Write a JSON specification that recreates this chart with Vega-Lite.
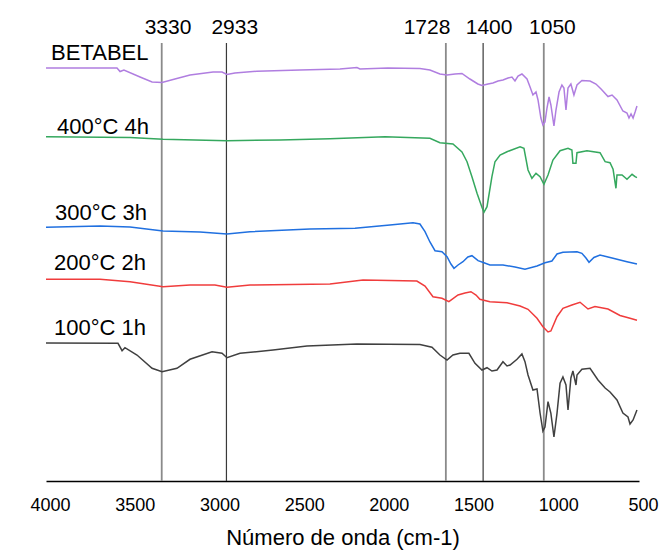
{
"$schema": "https://vega.github.io/schema/vega-lite/v6.json",
"width": 593,
"height": 466,
"autosize": {"type": "none"},
"padding": {"left": 46, "top": 15, "right": 20, "bottom": 69},
"background": "white",
"config": {"view": {"stroke": null}, "font": "Liberation Sans"},
"datasets": {
"refs": [
{"wn": 3317, "label": "3330"},
{"wn": 2935, "label": "2933"},
{"wn": 1640, "label": "1728"},
{"wn": 1420, "label": "1400"},
{"wn": 1062, "label": "1050"}
],
"toplabels": [
{"wn": 3280, "label": "3330"},
{"wn": 2886, "label": "2933"},
{"wn": 1751, "label": "1728"},
{"wn": 1385, "label": "1400"},
{"wn": 1011, "label": "1050"}
],
"serieslabels": [
{"wn": 3970, "t": 428.5, "name": "BETABEL"},
{"wn": 3935, "t": 354, "name": "400°C 4h"},
{"wn": 3947, "t": 268, "name": "300°C 3h"},
{"wn": 3953, "t": 218, "name": "200°C 2h"},
{"wn": 3953, "t": 153, "name": "100°C 1h"}
],
"spectra": [
{"s":"BETABEL","wn":4000,"t":413},{"s":"BETABEL","wn":3581,"t":413},{"s":"BETABEL","wn":3563,"t":409.5},{"s":"BETABEL","wn":3540,"t":411},{"s":"BETABEL","wn":3445,"t":404},{"s":"BETABEL","wn":3374,"t":399},{"s":"BETABEL","wn":3315,"t":398.5},{"s":"BETABEL","wn":3239,"t":402},{"s":"BETABEL","wn":3150,"t":406},{"s":"BETABEL","wn":3014,"t":409},{"s":"BETABEL","wn":2961,"t":409},{"s":"BETABEL","wn":2932,"t":406.5},{"s":"BETABEL","wn":2885,"t":408},{"s":"BETABEL","wn":2755,"t":409.7},{"s":"BETABEL","wn":2501,"t":411},{"s":"BETABEL","wn":2265,"t":412},{"s":"BETABEL","wn":2165,"t":413.5},{"s":"BETABEL","wn":2147,"t":412},{"s":"BETABEL","wn":1982,"t":413},{"s":"BETABEL","wn":1793,"t":412.5},{"s":"BETABEL","wn":1734,"t":411},{"s":"BETABEL","wn":1675,"t":407},{"s":"BETABEL","wn":1633,"t":406},{"s":"BETABEL","wn":1586,"t":407},{"s":"BETABEL","wn":1545,"t":407.5},{"s":"BETABEL","wn":1498,"t":402},{"s":"BETABEL","wn":1451,"t":397},{"s":"BETABEL","wn":1427,"t":395.5},{"s":"BETABEL","wn":1391,"t":397},{"s":"BETABEL","wn":1362,"t":398},{"s":"BETABEL","wn":1332,"t":400},{"s":"BETABEL","wn":1303,"t":401},{"s":"BETABEL","wn":1273,"t":403},{"s":"BETABEL","wn":1250,"t":404},{"s":"BETABEL","wn":1232,"t":400},{"s":"BETABEL","wn":1214,"t":405},{"s":"BETABEL","wn":1191,"t":407},{"s":"BETABEL","wn":1161,"t":402},{"s":"BETABEL","wn":1143,"t":394},{"s":"BETABEL","wn":1126,"t":386},{"s":"BETABEL","wn":1108,"t":389},{"s":"BETABEL","wn":1096,"t":381},{"s":"BETABEL","wn":1079,"t":363},{"s":"BETABEL","wn":1067,"t":356},{"s":"BETABEL","wn":1055,"t":359},{"s":"BETABEL","wn":1043,"t":373},{"s":"BETABEL","wn":1031,"t":384},{"s":"BETABEL","wn":1020,"t":376},{"s":"BETABEL","wn":1002,"t":355},{"s":"BETABEL","wn":990,"t":371},{"s":"BETABEL","wn":972,"t":389},{"s":"BETABEL","wn":955,"t":396},{"s":"BETABEL","wn":943,"t":393},{"s":"BETABEL","wn":931,"t":371},{"s":"BETABEL","wn":919,"t":393},{"s":"BETABEL","wn":902,"t":397},{"s":"BETABEL","wn":884,"t":386},{"s":"BETABEL","wn":866,"t":396},{"s":"BETABEL","wn":837,"t":400.5},{"s":"BETABEL","wn":789,"t":400},{"s":"BETABEL","wn":754,"t":397},{"s":"BETABEL","wn":724,"t":392},{"s":"BETABEL","wn":683,"t":384.5},{"s":"BETABEL","wn":659,"t":386},{"s":"BETABEL","wn":630,"t":381},{"s":"BETABEL","wn":595,"t":370},{"s":"BETABEL","wn":571,"t":368},{"s":"BETABEL","wn":559,"t":363},{"s":"BETABEL","wn":547,"t":367},{"s":"BETABEL","wn":535,"t":363},{"s":"BETABEL","wn":523,"t":369},{"s":"BETABEL","wn":512,"t":375},
{"s":"400°C 4h","wn":4000,"t":344.3},{"s":"400°C 4h","wn":3504,"t":343.5},{"s":"400°C 4h","wn":3309,"t":341.7},{"s":"400°C 4h","wn":2932,"t":340.3},{"s":"400°C 4h","wn":2619,"t":341},{"s":"400°C 4h","wn":2324,"t":342.3},{"s":"400°C 4h","wn":1999,"t":344.3},{"s":"400°C 4h","wn":1734,"t":342.7},{"s":"400°C 4h","wn":1675,"t":338.3},{"s":"400°C 4h","wn":1598,"t":337},{"s":"400°C 4h","wn":1545,"t":329},{"s":"400°C 4h","wn":1515,"t":319.3},{"s":"400°C 4h","wn":1486,"t":304.3},{"s":"400°C 4h","wn":1456,"t":287.7},{"s":"400°C 4h","wn":1427,"t":273.7},{"s":"400°C 4h","wn":1415,"t":268.7},{"s":"400°C 4h","wn":1397,"t":274.3},{"s":"400°C 4h","wn":1368,"t":304.3},{"s":"400°C 4h","wn":1350,"t":319.3},{"s":"400°C 4h","wn":1320,"t":326},{"s":"400°C 4h","wn":1279,"t":329.3},{"s":"400°C 4h","wn":1202,"t":334.3},{"s":"400°C 4h","wn":1179,"t":332.7},{"s":"400°C 4h","wn":1155,"t":311},{"s":"400°C 4h","wn":1132,"t":302.7},{"s":"400°C 4h","wn":1108,"t":307.7},{"s":"400°C 4h","wn":1084,"t":304.3},{"s":"400°C 4h","wn":1061,"t":296.7},{"s":"400°C 4h","wn":1037,"t":306},{"s":"400°C 4h","wn":1008,"t":321},{"s":"400°C 4h","wn":966,"t":330.3},{"s":"400°C 4h","wn":919,"t":332.7},{"s":"400°C 4h","wn":896,"t":331},{"s":"400°C 4h","wn":890,"t":317.7},{"s":"400°C 4h","wn":872,"t":317.7},{"s":"400°C 4h","wn":866,"t":328.3},{"s":"400°C 4h","wn":807,"t":330.3},{"s":"400°C 4h","wn":730,"t":328.3},{"s":"400°C 4h","wn":700,"t":319.3},{"s":"400°C 4h","wn":671,"t":318.3},{"s":"400°C 4h","wn":653,"t":311.7},{"s":"400°C 4h","wn":636,"t":292.7},{"s":"400°C 4h","wn":630,"t":306},{"s":"400°C 4h","wn":600,"t":306},{"s":"400°C 4h","wn":571,"t":301.7},{"s":"400°C 4h","wn":541,"t":306.7},{"s":"400°C 4h","wn":523,"t":304.3},{"s":"400°C 4h","wn":512,"t":303.3},
{"s":"300°C 3h","wn":4000,"t":253.7},{"s":"300°C 3h","wn":3681,"t":255},{"s":"300°C 3h","wn":3504,"t":254},{"s":"300°C 3h","wn":3309,"t":250},{"s":"300°C 3h","wn":3091,"t":249},{"s":"300°C 3h","wn":2932,"t":247},{"s":"300°C 3h","wn":2796,"t":249.3},{"s":"300°C 3h","wn":2442,"t":252},{"s":"300°C 3h","wn":2176,"t":252.7},{"s":"300°C 3h","wn":1970,"t":256},{"s":"300°C 3h","wn":1834,"t":258.3},{"s":"300°C 3h","wn":1793,"t":257},{"s":"300°C 3h","wn":1763,"t":249.3},{"s":"300°C 3h","wn":1734,"t":239},{"s":"300°C 3h","wn":1704,"t":230.3},{"s":"300°C 3h","wn":1663,"t":229.3},{"s":"300°C 3h","wn":1633,"t":224.3},{"s":"300°C 3h","wn":1610,"t":217},{"s":"300°C 3h","wn":1592,"t":212.7},{"s":"300°C 3h","wn":1568,"t":216},{"s":"300°C 3h","wn":1539,"t":219.3},{"s":"300°C 3h","wn":1510,"t":224},{"s":"300°C 3h","wn":1486,"t":225.3},{"s":"300°C 3h","wn":1450,"t":220.3},{"s":"300°C 3h","wn":1415,"t":218.3},{"s":"300°C 3h","wn":1380,"t":216},{"s":"300°C 3h","wn":1303,"t":216},{"s":"300°C 3h","wn":1232,"t":214},{"s":"300°C 3h","wn":1173,"t":211.7},{"s":"300°C 3h","wn":1102,"t":215},{"s":"300°C 3h","wn":1055,"t":218.3},{"s":"300°C 3h","wn":1014,"t":220},{"s":"300°C 3h","wn":984,"t":227},{"s":"300°C 3h","wn":949,"t":228.7},{"s":"300°C 3h","wn":866,"t":229.3},{"s":"300°C 3h","wn":837,"t":227.7},{"s":"300°C 3h","wn":813,"t":223},{"s":"300°C 3h","wn":795,"t":218.7},{"s":"300°C 3h","wn":766,"t":223.5},{"s":"300°C 3h","wn":730,"t":226},{"s":"300°C 3h","wn":653,"t":222.7},{"s":"300°C 3h","wn":571,"t":219.3},{"s":"300°C 3h","wn":512,"t":217},
{"s":"200°C 2h","wn":4000,"t":201.7},{"s":"200°C 2h","wn":3681,"t":201.7},{"s":"200°C 2h","wn":3504,"t":199.3},{"s":"200°C 2h","wn":3309,"t":194.3},{"s":"200°C 2h","wn":3150,"t":196},{"s":"200°C 2h","wn":3003,"t":196},{"s":"200°C 2h","wn":2932,"t":193.7},{"s":"200°C 2h","wn":2796,"t":196},{"s":"200°C 2h","wn":2324,"t":197},{"s":"200°C 2h","wn":2129,"t":201},{"s":"200°C 2h","wn":1811,"t":200},{"s":"200°C 2h","wn":1763,"t":195},{"s":"200°C 2h","wn":1716,"t":184.3},{"s":"200°C 2h","wn":1663,"t":182.7},{"s":"200°C 2h","wn":1622,"t":179.3},{"s":"200°C 2h","wn":1568,"t":186},{"s":"200°C 2h","wn":1527,"t":188},{"s":"200°C 2h","wn":1492,"t":189.3},{"s":"200°C 2h","wn":1462,"t":186},{"s":"200°C 2h","wn":1439,"t":181.7},{"s":"200°C 2h","wn":1380,"t":179.3},{"s":"200°C 2h","wn":1279,"t":178.3},{"s":"200°C 2h","wn":1202,"t":175},{"s":"200°C 2h","wn":1155,"t":171.7},{"s":"200°C 2h","wn":1102,"t":162.7},{"s":"200°C 2h","wn":1067,"t":154.3},{"s":"200°C 2h","wn":1037,"t":149},{"s":"200°C 2h","wn":1020,"t":150},{"s":"200°C 2h","wn":984,"t":164.3},{"s":"200°C 2h","wn":949,"t":172.7},{"s":"200°C 2h","wn":896,"t":176},{"s":"200°C 2h","wn":848,"t":178.7},{"s":"200°C 2h","wn":801,"t":172},{"s":"200°C 2h","wn":760,"t":174.5},{"s":"200°C 2h","wn":683,"t":172},{"s":"200°C 2h","wn":612,"t":165.5},{"s":"200°C 2h","wn":553,"t":162.7},{"s":"200°C 2h","wn":512,"t":160.7},
{"s":"100°C 1h","wn":4000,"t":138},{"s":"100°C 1h","wn":3575,"t":137.7},{"s":"100°C 1h","wn":3551,"t":130.3},{"s":"100°C 1h","wn":3534,"t":133.3},{"s":"100°C 1h","wn":3463,"t":126},{"s":"100°C 1h","wn":3374,"t":112.7},{"s":"100°C 1h","wn":3315,"t":109.3},{"s":"100°C 1h","wn":3227,"t":112.7},{"s":"100°C 1h","wn":3150,"t":121.7},{"s":"100°C 1h","wn":3020,"t":129.3},{"s":"100°C 1h","wn":2961,"t":127.7},{"s":"100°C 1h","wn":2932,"t":123.3},{"s":"100°C 1h","wn":2855,"t":127.7},{"s":"100°C 1h","wn":2660,"t":131},{"s":"100°C 1h","wn":2460,"t":135},{"s":"100°C 1h","wn":2165,"t":137},{"s":"100°C 1h","wn":1793,"t":136.5},{"s":"100°C 1h","wn":1722,"t":133.7},{"s":"100°C 1h","wn":1675,"t":126},{"s":"100°C 1h","wn":1633,"t":121},{"s":"100°C 1h","wn":1598,"t":126},{"s":"100°C 1h","wn":1557,"t":127.7},{"s":"100°C 1h","wn":1504,"t":127.7},{"s":"100°C 1h","wn":1468,"t":117.7},{"s":"100°C 1h","wn":1427,"t":111},{"s":"100°C 1h","wn":1397,"t":113.3},{"s":"100°C 1h","wn":1368,"t":110},{"s":"100°C 1h","wn":1338,"t":111},{"s":"100°C 1h","wn":1303,"t":119.3},{"s":"100°C 1h","wn":1279,"t":115},{"s":"100°C 1h","wn":1261,"t":116},{"s":"100°C 1h","wn":1220,"t":121.7},{"s":"100°C 1h","wn":1191,"t":127},{"s":"100°C 1h","wn":1173,"t":119.3},{"s":"100°C 1h","wn":1155,"t":106},{"s":"100°C 1h","wn":1126,"t":91},{"s":"100°C 1h","wn":1102,"t":92},{"s":"100°C 1h","wn":1084,"t":68},{"s":"100°C 1h","wn":1067,"t":50},{"s":"100°C 1h","wn":1055,"t":54},{"s":"100°C 1h","wn":1037,"t":79.3},{"s":"100°C 1h","wn":1020,"t":67.7},{"s":"100°C 1h","wn":1002,"t":44},{"s":"100°C 1h","wn":984,"t":67.7},{"s":"100°C 1h","wn":966,"t":97.7},{"s":"100°C 1h","wn":949,"t":104},{"s":"100°C 1h","wn":931,"t":96},{"s":"100°C 1h","wn":919,"t":71},{"s":"100°C 1h","wn":902,"t":103},{"s":"100°C 1h","wn":890,"t":110},{"s":"100°C 1h","wn":872,"t":96},{"s":"100°C 1h","wn":866,"t":106},{"s":"100°C 1h","wn":837,"t":111.7},{"s":"100°C 1h","wn":789,"t":112.7},{"s":"100°C 1h","wn":742,"t":101},{"s":"100°C 1h","wn":700,"t":93},{"s":"100°C 1h","wn":671,"t":89},{"s":"100°C 1h","wn":630,"t":81},{"s":"100°C 1h","wn":595,"t":68},{"s":"100°C 1h","wn":565,"t":64},{"s":"100°C 1h","wn":553,"t":57},{"s":"100°C 1h","wn":535,"t":61},{"s":"100°C 1h","wn":512,"t":71}
]
},
"encoding": {
"x": {
"field": "wn", "type": "quantitative",
"scale": {"domain": [500, 4000], "reverse": true, "nice": false, "zero": false},
"axis": {
"title": "Número de onda (cm-1)",
"values": [4000, 3500, 3000, 2500, 2000, 1500, 1000, 500],
"format": "d", "ticks": false, "grid": false,
"domainColor": "black", "domainWidth": 1.5,
"labelFont": "Liberation Sans", "labelFontSize": 18, "labelColor": "black",
"labelPadding": 15, "labelOffset": 4, "labelFlush": false, "labelOverlap": false,
"titleFont": "Liberation Sans", "titleFontSize": 22, "titleFontWeight": "normal", "titleColor": "black",
"titleY": 63, "titleBaseline": "alphabetic"
}
}
},
"layer": [
{
"data": {"name": "refs"},
"transform": [{"filter": {"field": "label", "oneOf": ["3330", "1728", "1050"]}}],
"mark": {"type": "rule", "color": "#8a8a8a", "strokeWidth": 1.8},
"encoding": {
"y": {"datum": 438, "type": "quantitative", "scale": {"domain": [0, 466], "nice": false, "zero": true}, "axis": null},
"y2": {"datum": 0}
}
},
{
"data": {"name": "refs"},
"transform": [{"filter": {"field": "label", "oneOf": ["2933", "1400"]}}],
"mark": {"type": "rule", "color": "#3a3a3a", "strokeWidth": 1.2},
"encoding": {
"y": {"datum": 438, "type": "quantitative", "scale": {"domain": [0, 466], "nice": false, "zero": true}, "axis": null},
"y2": {"datum": 0}
}
},
{
"data": {"name": "spectra"},
"mark": {"type": "line", "strokeWidth": 1.5, "interpolate": "linear"},
"encoding": {
"y": {
"field": "t", "type": "quantitative",
"scale": {"domain": [0, 466], "nice": false, "zero": true},
"axis": {
"title": "% Transmitancia", "labels": false, "ticks": false, "grid": false,
"domainColor": "black", "domainWidth": 1.5,
"titleFont": "Liberation Sans", "titleFontSize": 22, "titleFontWeight": "normal", "titleColor": "black",
"titleX": -24, "titleY": 213, "titleBaseline": "middle", "titleAngle": -90, "titleAlign": "center"
}
},
"color": {
"field": "s", "type": "nominal",
"scale": {
"domain": ["BETABEL", "400°C 4h", "300°C 3h", "200°C 2h", "100°C 1h"],
"range": ["#b07ee0", "#35a85e", "#2070e0", "#f03c3c", "#404040"]
},
"legend": null
}
}
},
{
"data": {"name": "toplabels"},
"mark": {"type": "text", "font": "Liberation Sans", "fontSize": 21, "color": "black", "align": "center", "baseline": "middle"},
"encoding": {
"y": {"datum": 453, "type": "quantitative", "scale": {"domain": [0, 466], "nice": false, "zero": true}, "axis": null},
"text": {"field": "label"}
}
},
{
"data": {"name": "serieslabels"},
"mark": {"type": "text", "font": "Liberation Sans", "fontSize": 22, "color": "black", "align": "left", "baseline": "middle"},
"encoding": {
"y": {"field": "t", "type": "quantitative", "scale": {"domain": [0, 466], "nice": false, "zero": true}, "axis": null},
"text": {"field": "name"}
}
}
]
}
